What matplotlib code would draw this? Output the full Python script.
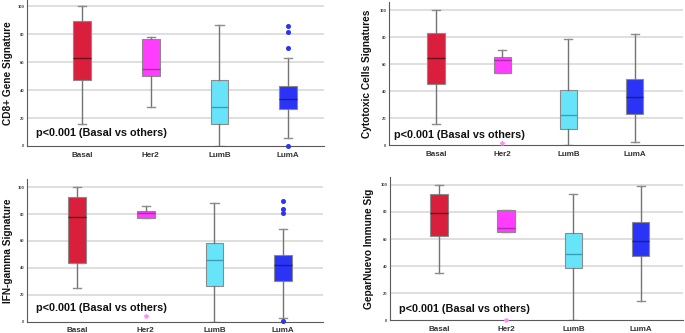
import matplotlib
matplotlib.use("Agg")
import matplotlib.pyplot as plt

plt.rcParams['font.family'] = ['Liberation Sans', 'DejaVu Sans']

categories = ["Basal", "Her2", "LumB", "LumA"]
fill_colors = ["#DA1F3D", "#FF3DFF", "#68E4FA", "#2A34F6"]
median_colors = ["#6E0E1C", "#B02AB0", "#3A9FB2", "#1A2090"]

# five-number summaries per panel: [whislo, q1, med, q3, whishi] per category
cd8_stats = [[15.5, 47.0, 62.8, 89.7, 100.0],
             [28.2, 50.1, 55.1, 76.4, 78.0],
             [0.0, 16.0, 27.7, 47.0, 86.9],
             [5.5, 26.7, 33.4, 42.7, 62.8]]
cd8_fliers = [[], [], [], [85.7, 81.6, 70.2, 0.0]]

cyto_stats = [[15.6, 45.4, 64.8, 83.4, 100.0],
              [53.8, 53.8, 63.3, 65.5, 70.5],
              [0.0, 12.2, 22.3, 40.9, 78.7],
              [2.2, 23.1, 36.0, 49.1, 82.6]]
cyto_fliers = [[], [2.0], [], []]

ifn_stats = [[24.8, 43.9, 77.7, 92.8, 100.0],
             [77.4, 77.4, 80.6, 82.6, 85.9],
             [0.0, 26.3, 45.7, 58.3, 88.1],
             [3.0, 30.5, 41.9, 49.9, 68.7]]
ifn_fliers = [[], [4.5], [], [90.0, 83.4, 81.1, 0.7]]

gepar_stats = [[34.6, 62.2, 79.4, 92.9, 100.0],
               [65.4, 65.4, 67.8, 81.1, 81.8],
               [0.0, 38.6, 48.6, 64.6, 92.9],
               [14.0, 47.7, 58.7, 72.7, 99.5]]
gepar_fliers = [[], [0.5], [], []]

ylabels = ["CD8+ Gene Signature", "Cytotoxic Cells Signatures",
           "IFN-gamma Signature", "GeparNuevo Immune Sig"]
yticks = [0, 20, 40, 60, 80, 100]
p_text = "p<0.001 (Basal vs others)"

panels = [
    dict(stats=cd8_stats, fliers=cd8_fliers, pos=[0.0394, 0.5616, 0.4336, 0.4384],
         xlim=(-0.80, 3.52), ylim=(0, 104.5), label=ylabels[0], ptxt=(-0.67, 9.1), lab_x=-0.047),
    dict(stats=cyto_stats, fliers=cyto_fliers, pos=[0.5679, 0.5637, 0.4292, 0.4312],
         xlim=(-0.71, 3.73), ylim=(0, 106.5), label=ylabels[1], ptxt=(-0.63, 7.7), lab_x=-0.058),
    dict(stats=ifn_stats, fliers=ifn_fliers, pos=[0.0394, 0.0339, 0.4321, 0.4285],
         xlim=(-0.73, 3.58), ylim=(0, 106), label=ylabels[2], ptxt=(-0.60, 9.9), lab_x=-0.047),
    dict(stats=gepar_stats, fliers=gepar_fliers, pos=[0.5693, 0.0381, 0.4277, 0.4312],
         xlim=(-0.73, 3.63), ylim=(0, 106), label=ylabels[3], ptxt=(-0.60, 8.4), lab_x=-0.055),
]

fig = plt.figure(figsize=(6.85, 3.33), dpi=100)

for p in panels:
    ax = fig.add_axes(p["pos"])
    ax.set_xlim(*p["xlim"])
    ax.set_ylim(*p["ylim"])
    for y in yticks[1:]:
        ax.axhline(y, color="#DCDCDC", lw=1.3, zorder=0)
    for i, (s, fl) in enumerate(zip(p["stats"], p["fliers"])):
        st = dict(whislo=s[0], q1=s[1], med=s[2], q3=s[3], whishi=s[4], fliers=[])
        ax.bxp([st], positions=[i], widths=0.26, patch_artist=True, showfliers=False,
               boxprops=dict(facecolor=fill_colors[i], edgecolor="#8A8A8A", lw=0.8),
               medianprops=dict(color=median_colors[i], lw=1.0),
               whiskerprops=dict(color="#747474", lw=1.0),
               capprops=dict(color="#8C8C8C", lw=1.0), capwidths=0.12,
               manage_ticks=False, zorder=2)
        if fl:
            if i == 1:
                ax.plot([i] * len(fl), fl, marker="*", ls="none", ms=3,
                        color="#FF8CFF", mec="#FF8CFF", zorder=3, clip_on=False)
            else:
                ax.plot([i] * len(fl), fl, marker="o", ls="none", ms=2.6,
                        color=fill_colors[i], mec=fill_colors[i], zorder=3, clip_on=False)
    ax.set_xticks(range(len(categories)))
    ax.set_xticklabels(categories, fontsize=5.8, fontweight="bold", color="#333333")
    ax.set_yticks(yticks)
    ax.set_yticklabels([str(v) for v in yticks], fontsize=3, fontweight="bold", color="#444444")
    ax.tick_params(axis="both", length=0)
    ax.tick_params(axis="x", pad=4)
    ax.tick_params(axis="y", pad=2)
    for side in ["top", "right"]:
        ax.spines[side].set_visible(False)
    for side in ["left", "bottom"]:
        ax.spines[side].set_color("#5A5A5A")
        ax.spines[side].set_linewidth(0.8)
    ax.set_ylabel(p["label"], fontsize=7.3, fontweight="bold", color="#111111")
    ax.yaxis.set_label_coords(p["lab_x"], 0.5)
    ax.text(p["ptxt"][0], p["ptxt"][1], p_text, fontsize=7.8, fontweight="bold",
            color="#111111", ha="left", va="center", zorder=4)

fig.savefig("out.png", dpi=100)
